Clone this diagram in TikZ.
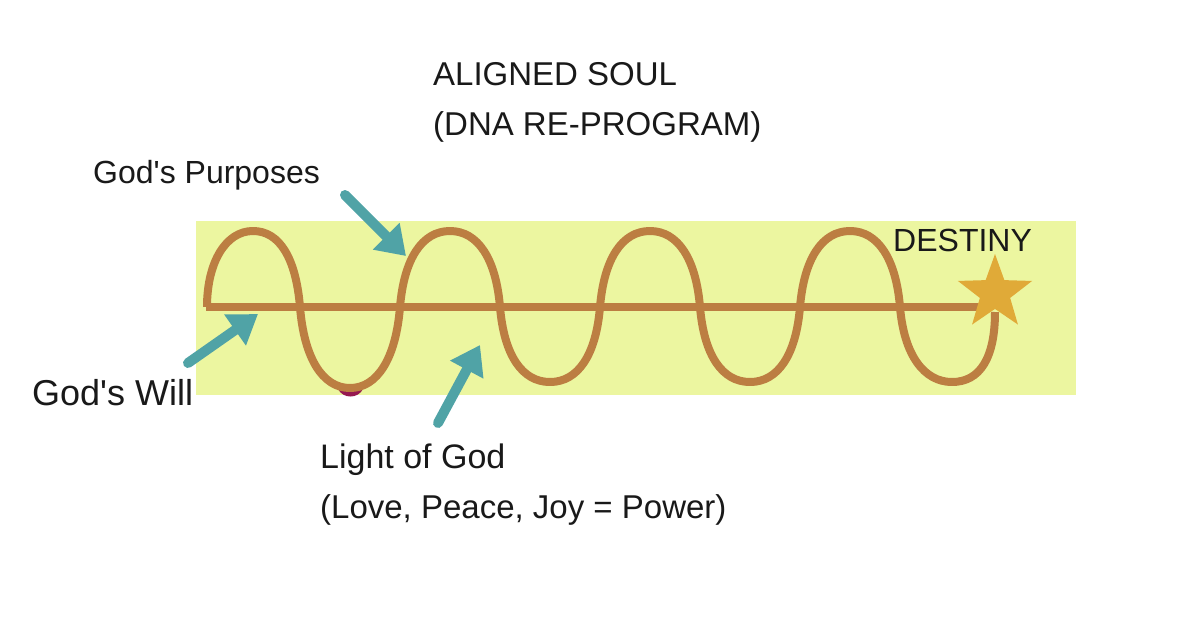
\documentclass[tikz,border=0pt]{standalone}
\usepackage{fontspec}
\setmainfont{Liberation Sans}
\usetikzlibrary{shapes.geometric,arrows.meta}
\definecolor{bgyellow}{RGB}{236,246,160}
\definecolor{rope}{RGB}{188,126,66}
\definecolor{tealarrow}{RGB}{80,163,166}
\definecolor{stargold}{RGB}{224,170,56}
\definecolor{blotch}{RGB}{150,25,80}
\definecolor{ink}{RGB}{25,25,25}
\tikzset{
  lbl/.style={anchor=base west, inner sep=0pt, text=ink, font=\fontsize{33}{40}\selectfont},
  ropeline/.style={draw=rope, line width=8pt, line join=round},
  pointer/.style={draw=tealarrow, line width=10pt, line cap=round,
    -{Triangle[length=28pt,width=36pt]}},
}
\begin{document}
\begin{tikzpicture}[x=1pt,y=-1pt]
\useasboundingbox[fill=white] (0,0) rectangle (1200,627);
% yellow band
\fill[bgyellow] (196,221) rectangle (1076,395);
% small magenta blotch under the first trough
\fill[blotch] (338,389) .. controls (343,399) and (358,399) .. (363,389) -- cycle;
% rope: horizontal line
\path[ropeline] (206,307) -- (985,307);
% rope: wave
\path[ropeline] (207,307)
  .. controls (207,262) and (226,231) .. (253,231)
  .. controls (280,231) and (296,259) .. (300,307)
  .. controls (304,357) and (322,388) .. (350,388)
  .. controls (378,388) and (396,357) .. (400,307)
  .. controls (404,259) and (422,231) .. (450,231)
  .. controls (478,231) and (496,259) .. (500,307)
  .. controls (504,355) and (522,382) .. (550,382)
  .. controls (578,382) and (596,355) .. (600,307)
  .. controls (604,259) and (622,231) .. (650,231)
  .. controls (678,231) and (696,259) .. (700,307)
  .. controls (704,355) and (722,382) .. (750,382)
  .. controls (778,382) and (796,355) .. (800,307)
  .. controls (804,259) and (822,231) .. (850,231)
  .. controls (878,231) and (896,259) .. (900,307)
  .. controls (904,355) and (924,382) .. (952,382)
  .. controls (980,382) and (995,358) .. (995,312);
% star
\node[star, star points=5, star point ratio=2.45, minimum size=78pt, inner sep=0pt,
  fill=stargold] (star) at (995,293) {};
% labels
\node[lbl] (title1) at (433,85) {ALIGNED SOUL};
\node[lbl] (title2) at (433,135) {(DNA RE-PROGRAM)};
\node[lbl, font=\fontsize{32}{40}\selectfont] (purp) at (93,183) {God\textquotesingle s Purposes};
\node[lbl, font=\fontsize{32}{40}\selectfont] (dest) at (893,251) {DESTINY};
\node[lbl, font=\fontsize{36}{40}\selectfont] (will) at (32,405) {God\textquotesingle s Will};
\node[lbl, font=\fontsize{34}{40}\selectfont] (light) at (320,468) {Light of God};
\node[lbl] (power) at (320,518) {(Love, Peace, Joy = Power)};
% arrow anchors
\coordinate (purpTail) at (345,195);
\coordinate (purpTip) at (406,256);
\coordinate (willTail) at (188,363);
\coordinate (willTip) at (258,314);
\coordinate (lightTail) at (438,423);
\coordinate (lightTip) at (480,345);
\draw[pointer] (purpTail) -- (purpTip);
\draw[pointer] (willTail) -- (willTip);
\draw[pointer] (lightTail) -- (lightTip);
\end{tikzpicture}
\end{document}
